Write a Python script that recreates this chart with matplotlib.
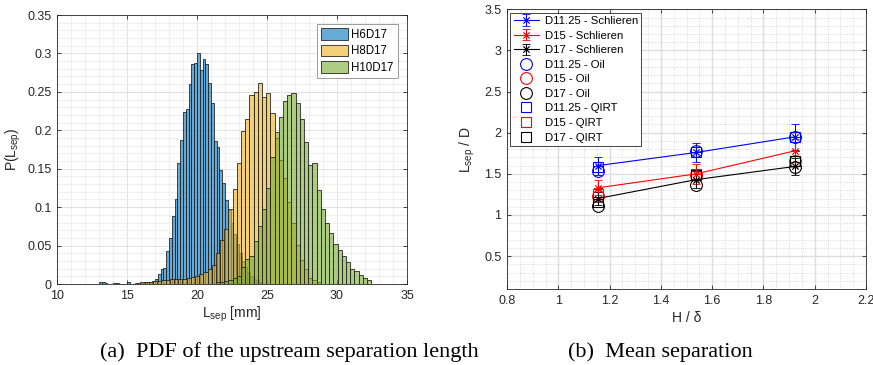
import numpy as np
import matplotlib
matplotlib.use('Agg')
import matplotlib.pyplot as plt
from matplotlib.ticker import MultipleLocator

# ---------------- data : histogrammes (pdf) ----------------
h6_start, h6_width = 12.8, 0.2
h6d17 = [0, 0.002, 0.002, 0.001, 0, 0, 0.001, 0.001, 0, 0, 0,
         0.003, 0, 0, 0.001, 0.001, 0.001, 0.002, 0.002, 0.003, 0.004,
         0.006, 0.013, 0.020, 0.021, 0.043, 0.060, 0.088, 0.110, 0.158, 0.187,
         0.224, 0.228, 0.260, 0.286, 0.288, 0.301, 0.279, 0.293, 0.286, 0.261,
         0.235, 0.186, 0.178, 0.148, 0.131, 0.109, 0.096, 0.079, 0.065, 0.052,
         0.040, 0.030, 0.022, 0.016, 0.011, 0.007, 0.005, 0.003]

h8_start, h8_width = 15.95, 0.3
h8d17 = [0.003, 0.003, 0.003, 0.004, 0.004, 0.005, 0.005, 0.006, 0.006, 0.007,
         0.007, 0.008, 0.009, 0.011, 0.013, 0.016, 0.019, 0.025, 0.040, 0.057,
         0.071, 0.097, 0.124, 0.157, 0.199, 0.215, 0.246, 0.250, 0.261, 0.243,
         0.249, 0.222, 0.190, 0.161, 0.138, 0.107, 0.079, 0.051, 0.031, 0.020,
         0.008, 0.005, 0.003]

h10_start, h10_width = 21.35, 0.3
h10d17 = [0.002, 0.003, 0.004, 0.005, 0.008, 0.010, 0.022, 0.032, 0.037, 0.056,
          0.075, 0.098, 0.125, 0.165,
          0.198, 0.217, 0.238, 0.246, 0.248, 0.236, 0.215, 0.185, 0.155, 0.157,
          0.122, 0.097, 0.079, 0.066, 0.052, 0.044, 0.036, 0.029, 0.019, 0.017,
          0.012, 0.008, 0.005]

# ---------------- data : separation moyenne ----------------
h_delta = [1.154, 1.538, 1.923]
schl_d1125 = [1.60, 1.76, 1.95]
schl_d1125_err = [0.11, 0.12, 0.16]
schl_d15 = [1.33, 1.50, 1.78]
schl_d15_err = [0.09, 0.12, 0.14]
schl_d17 = [1.20, 1.43, 1.59]
schl_d17_err = [0.08, 0.10, 0.10]
oil_d1125 = [1.54, 1.78, 1.95]
oil_d15 = [1.23, 1.48, 1.66]
oil_d17 = [1.11, 1.37, 1.58]
qirt_d1125 = [1.58, 1.77, 1.95]
qirt_d15 = [1.25, 1.50, 1.66]
qirt_d17 = [1.16, 1.48, 1.65]

plt.rcParams['font.family'] = ['Liberation Sans', 'DejaVu Sans']
plt.rcParams['mathtext.fontset'] = 'custom'
plt.rcParams['mathtext.rm'] = 'Liberation Sans'
plt.rcParams['mathtext.it'] = 'Liberation Sans:italic'

dark = '#262626'
fig = plt.figure(figsize=(8.73, 3.65), dpi=100)
ax1 = fig.add_axes([0.0653, 0.2219, 0.4009, 0.737])
ax2 = fig.add_axes([0.5808, 0.2082, 0.4112, 0.7663])

# 左图 : histogrammes
series = [(h6_start, h6_width, h6d17, (0.0, 0.447, 0.741), 'H6D17'),
          (h8_start, h8_width, h8d17, (0.929, 0.694, 0.125), 'H8D17'),
          (h10_start, h10_width, h10d17, (0.466, 0.674, 0.188), 'H10D17')]
for start, width, heights, col, lab in series:
    x = start + width * np.arange(len(heights))
    ax1.bar(x, heights, width=width, align='edge', facecolor=col + (0.6,),
            edgecolor=dark, linewidth=0.6, label=lab)

ax1.set_xlim(10, 35)
ax1.set_ylim(0, 0.35)
ax1.xaxis.set_major_locator(MultipleLocator(5))
ax1.xaxis.set_minor_locator(MultipleLocator(1))
ax1.yaxis.set_minor_locator(MultipleLocator(0.01))
ax1.set_yticks(np.arange(0, 0.351, 0.05))
ax1.set_yticklabels(['0', '0.05', '0.1', '0.15', '0.2', '0.25', '0.3', '0.35'])
ax1.grid(which='major', color='#dcdcdc', linewidth=0.6)
ax1.grid(which='minor', color='#ececec', linewidth=0.6)
ax1.set_axisbelow(True)
ax1.set_xlabel('L$_{\\mathrm{sep}}$ [mm]', fontsize=10, color=dark, labelpad=2)
ax1.set_ylabel('P(L$_{\\mathrm{sep}}$)', fontsize=10, color=dark, labelpad=3)
leg1 = ax1.legend(loc='upper right', fontsize=8.3, fancybox=False, edgecolor='#8c8c8c',
                  framealpha=1, handlelength=2.3, handleheight=1.2, borderpad=0.35,
                  labelspacing=0.3, handletextpad=0.3, borderaxespad=0.8)
leg1.get_frame().set_linewidth(0.6)

# 右图 : separation moyenne
for y, e, c, lab in [(schl_d1125, schl_d1125_err, 'b', 'D11.25 - Schlieren'),
                     (schl_d15, schl_d15_err, 'r', 'D15 - Schlieren'),
                     (schl_d17, schl_d17_err, 'k', 'D17 - Schlieren')]:
    ax2.errorbar(h_delta, y, yerr=e, color=c, marker=(8, 2, 0), markersize=6,
                 markeredgewidth=0.6, linewidth=0.8, elinewidth=0.8, capsize=3,
                 capthick=0.8, label=lab)
for y, c, lab in [(oil_d1125, 'b', 'D11.25 - Oil'), (oil_d15, 'r', 'D15 - Oil'),
                  (oil_d17, 'k', 'D17 - Oil')]:
    ax2.plot(h_delta, y, linestyle='none', marker='o', markersize=8.5,
             markerfacecolor='none', markeredgecolor=c, markeredgewidth=0.8, label=lab)
for y, c, lab in [(qirt_d1125, 'b', 'D11.25 - QIRT'), (qirt_d15, 'r', 'D15 - QIRT'),
                  (qirt_d17, 'k', 'D17 - QIRT')]:
    ax2.plot(h_delta, y, linestyle='none', marker='s', markersize=6.5,
             markerfacecolor='none', markeredgecolor=c, markeredgewidth=0.8, label=lab)

ax2.set_xlim(0.8, 2.2)
ax2.set_ylim(0.1, 3.5)
ax2.set_xticks(np.arange(0.8, 2.21, 0.2))
ax2.set_xticklabels(['0.8', '1', '1.2', '1.4', '1.6', '1.8', '2', '2.2'])
ax2.set_yticks(np.arange(0.5, 3.51, 0.5))
ax2.set_yticklabels(['0.5', '1', '1.5', '2', '2.5', '3', '3.5'])
ax2.xaxis.set_minor_locator(MultipleLocator(0.05))
ax2.yaxis.set_minor_locator(MultipleLocator(0.1))
ax2.grid(which='major', color='#dedede', linewidth=1.0)
ax2.grid(which='minor', color='#bdbdbd', linewidth=0.5, linestyle=(0, (1, 2)))
ax2.set_axisbelow(True)
ax2.set_xlabel('H / δ', fontsize=10, color=dark, labelpad=3)
ax2.set_ylabel('L$_{\\mathrm{sep}}$ / D', fontsize=10, color=dark, labelpad=5)
handles, labels = ax2.get_legend_handles_labels()
order = [6, 7, 8, 0, 1, 2, 3, 4, 5]
leg2 = ax2.legend([handles[i] for i in order], [labels[i] for i in order],
                  loc='upper left', fontsize=8.2, fancybox=False, edgecolor=dark,
                  framealpha=1, handlelength=2.2, borderpad=0.3, labelspacing=0.4,
                  handletextpad=0.5, borderaxespad=0.3)
leg2.get_frame().set_linewidth(0.6)

for ax in (ax1, ax2):
    ax.tick_params(which='both', direction='in', top=True, right=True,
                   labelsize=9, colors=dark, width=0.6, pad=4)
    ax.tick_params(which='major', length=3)
    ax.tick_params(which='minor', length=0)
    for sp in ax.spines.values():
        sp.set_color(dark)
        sp.set_linewidth(0.6)

fig.text(0.331, 0.036, '(a)  PDF of the upstream separation length',
         family='Liberation Serif', fontsize=16, ha='center', va='center')
fig.text(0.756, 0.036, '(b)  Mean separation',
         family='Liberation Serif', fontsize=16, ha='center', va='center')

fig.savefig('out.png', dpi=100)
